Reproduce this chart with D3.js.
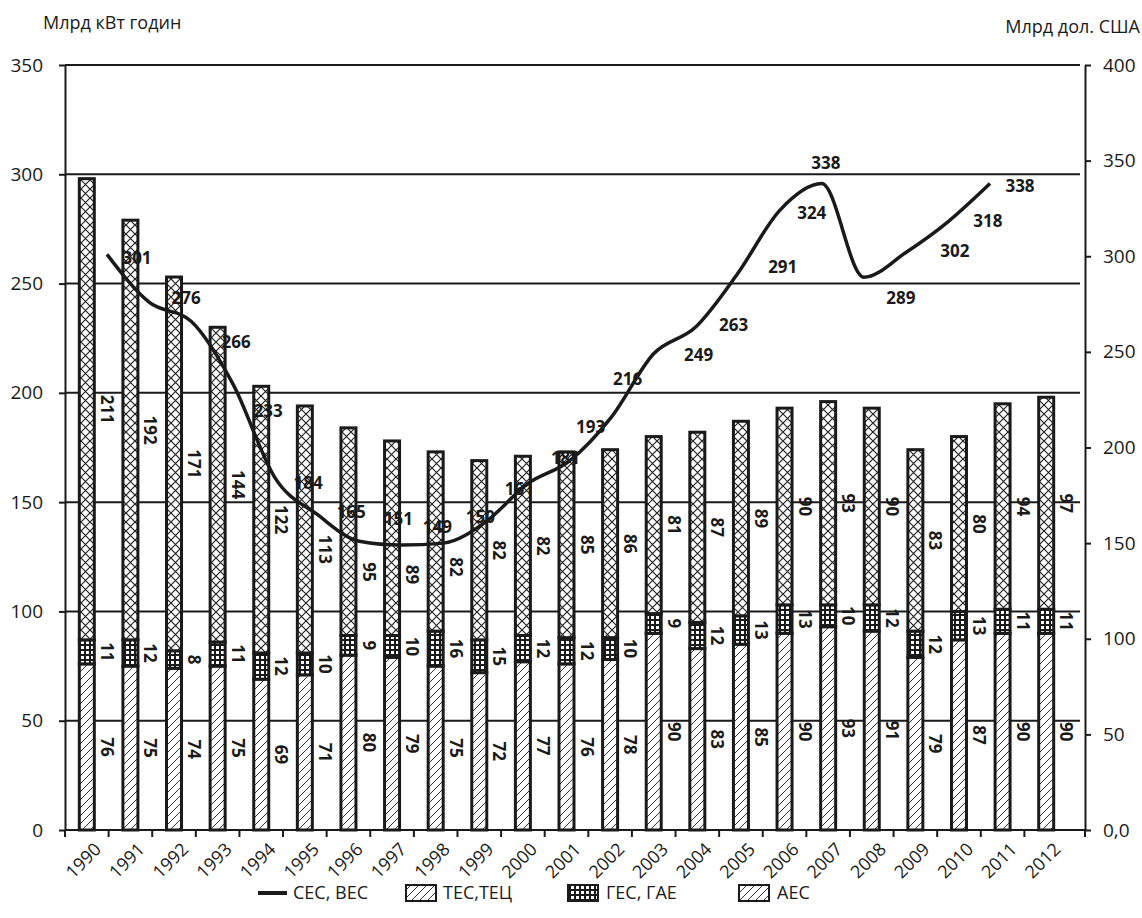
<!DOCTYPE html>
<html>
<head>
<meta charset="utf-8">
<script src="https://cdn.jsdelivr.net/npm/d3@7"></script>
<style>
  body { margin: 0; background: #fff; }
  text { font-family: "Open Sans", "Noto Sans", sans-serif; fill: #1a1a1a; }
</style>
</head>
<body>
<svg id="chart" width="1142" height="918"></svg>
<script>
// Electricity generation by plant type (bn kWh) and GDP line (bn USD)
const years = ['1990','1991','1992','1993','1994','1995','1996','1997','1998','1999','2000',
               '2001','2002','2003','2004','2005','2006','2007','2008','2009','2010','2011','2012'];
const aes     = [76, 75, 74, 75, 69, 71, 80, 79, 75, 72, 77, 76, 78, 90, 83, 85, 90, 93, 91, 79, 87, 90, 90];
const hydro   = [11, 12, 8, 11, 12, 10, 9, 10, 16, 15, 12, 12, 10, 9, 12, 13, 13, 10, 12, 12, 13, 11, 11];
const thermal = [211, 192, 171, 144, 122, 113, 95, 89, 82, 82, 82, 85, 86, 81, 87, 89, 90, 93, 90, 83, 80, 94, 97];

const gdpYears = ['1991','1992','1993','1994','1995','1996','1997','1998','1999','2000','2001',
                  '2002','2003','2004','2005','2006','2007','2008','2009','2010','2011','2012'];
const gdp = [301, 276, 266, 233, 184, 165, 151, 149, 150, 161, 181, 193, 216, 249, 263, 291, 324, 338, 289, 302, 318, 338];

const leftTicks  = [0, 50, 100, 150, 200, 250, 300, 350];
const rightTicks = [0, 50, 100, 150, 200, 250, 300, 350, 400];

const legendItems = ['СЕС, ВЕС', 'ТЕС,ТЕЦ', 'ГЕС, ГАЕ', 'АЕС'];

// nudges for GDP value labels, relative to their points
const gdpLabelOffset = [[30,4],[37,-4],[45,21],[35,27],[33,5],[34,-2],[39,-22],[36,-18],[37,-26],[34,-33],
                        [38,-26],[21,-34],[16,-38],[45,1],[38,-2],[45,-6],[32,3],[4,-21],[37,21],[49,-1],[40,-1],[30,2]];

const ink = '#1a1a1a';
const svg = d3.select('#chart');

const yLeft  = d3.scaleLinear().domain([0, 350]).range([830, 65]);
const yRight = d3.scaleLinear().domain([0, 400]).range([830, 65]);
const x = d3.scaleBand().domain(years).range([65, 1068]).paddingInner(0.656).paddingOuter(0.328);
const xLine = d3.scalePoint().domain(gdpYears).range([107, 990]);
const bw = x.bandwidth();
const step = x.step();

// ---------- fill patterns ----------
const defs = svg.append('defs');
const cross = defs.append('pattern').attr('id', 'pCross').attr('patternUnits', 'userSpaceOnUse')
  .attr('width', 9).attr('height', 9);
cross.append('rect').attr('width', 9).attr('height', 9).attr('fill', '#fff');
cross.append('path').attr('d', 'M0,0L9,9M9,0L0,9').attr('stroke', '#222').attr('stroke-width', 1.2);

const diag = defs.append('pattern').attr('id', 'pDiag').attr('patternUnits', 'userSpaceOnUse')
  .attr('width', 8).attr('height', 8);
diag.append('rect').attr('width', 8).attr('height', 8).attr('fill', '#fff');
diag.append('path').attr('d', 'M0,8L8,0M-2,2L2,-2M6,10L10,6').attr('stroke', '#333').attr('stroke-width', 1);

const grid = defs.append('pattern').attr('id', 'pGrid').attr('patternUnits', 'userSpaceOnUse')
  .attr('width', 5).attr('height', 5);
grid.append('rect').attr('width', 5).attr('height', 5).attr('fill', ink);
grid.append('rect').attr('x', 1).attr('y', 1).attr('width', 3).attr('height', 3).attr('fill', '#fff');

const fills = { aes: 'url(#pDiag)', hydro: 'url(#pGrid)', thermal: 'url(#pCross)' };

// ---------- gridlines ----------
svg.append('g').selectAll('line').data(leftTicks.filter(d => d > 0)).join('line')
  .attr('x1', 65).attr('x2', 1080)
  .attr('y1', d => yLeft(d)).attr('y2', d => yLeft(d))
  .attr('stroke', ink).attr('stroke-width', 2);

// ---------- stacked bars ----------
const table = years.map((yr, i) => ({ year: yr, aes: aes[i], hydro: hydro[i], thermal: thermal[i] }));
const keys = ['aes', 'hydro', 'thermal'];
const stacked = d3.stack().keys(keys)(table);

const barG = svg.append('g');
stacked.forEach(layer => {
  barG.append('g').selectAll('rect').data(layer).join('rect')
    .attr('x', d => x(d.data.year))
    .attr('width', bw)
    .attr('y', d => yLeft(d[1]))
    .attr('height', d => yLeft(d[0]) - yLeft(d[1]))
    .attr('fill', fills[layer.key])
    .attr('stroke', ink).attr('stroke-width', 3);
});

// ---------- GDP line ----------
const gdpPts = gdpYears.map((yr, i) => ({ year: yr, v: gdp[i] }));
const line = d3.line().x(d => xLine(d.year)).y(d => yRight(d.v)).curve(d3.curveMonotoneX);
const lineXs = gdpPts.map(d => xLine(d.year));

// y of the GDP line at an arbitrary x (linear between points)
function lineYAt(px) {
  if (px < lineXs[0] || px > lineXs[lineXs.length - 1]) return null;
  const i = Math.max(1, Math.min(d3.bisectRight(lineXs, px), lineXs.length - 1));
  const t = (px - lineXs[i - 1]) / (lineXs[i] - lineXs[i - 1]);
  return yRight(gdp[i - 1]) * (1 - t) + yRight(gdp[i]) * t;
}

// ---------- bar value labels (thermal labels kept below the line) ----------
const labG = svg.append('g').attr('font-weight', 700).attr('font-size', 17);
stacked.forEach(layer => {
  layer.forEach(d => {
    const cx = x(d.data.year) + bw / 2 + 20;
    let cy = (yLeft(d[0]) + yLeft(d[1])) / 2;
    if (layer.key === 'thermal') {
      const ly = lineYAt(cx);
      if (ly !== null) cy = Math.max(cy, ly + 30);
    }
    labG.append('text')
      .attr('transform', `translate(${cx},${cy}) rotate(90)`)
      .attr('text-anchor', 'middle').attr('dy', '0.35em')
      .text(d.data[layer.key]);
  });
});

svg.append('path').datum(gdpPts)
  .attr('d', line).attr('fill', 'none')
  .attr('stroke', ink).attr('stroke-width', 3.5).attr('stroke-linejoin', 'round');

svg.append('g').attr('font-weight', 700).attr('font-size', 17)
  .selectAll('text').data(gdpPts).join('text')
  .attr('x', (d, i) => xLine(d.year) + gdpLabelOffset[i][0])
  .attr('y', (d, i) => yRight(d.v) + gdpLabelOffset[i][1])
  .attr('text-anchor', 'middle').attr('dy', '0.35em')
  .text(d => d.v);

// ---------- axes ----------
const axL = svg.append('g').attr('transform', 'translate(65,0)')
  .call(d3.axisLeft(yLeft).tickValues(leftTicks).tickSize(6).tickSizeOuter(0).tickPadding(16));
const axR = svg.append('g').attr('transform', 'translate(1085,0)')
  .call(d3.axisRight(yRight).tickValues(rightTicks).tickSize(6).tickSizeOuter(0).tickPadding(12)
    .tickFormat(d => d === 0 ? '0,0' : d));
[axL, axR].forEach(g => {
  g.selectAll('path,line').attr('stroke', ink).attr('stroke-width', 2);
  g.selectAll('text').attr('font-size', 19).attr('font-family', '"Open Sans", sans-serif').attr('fill', ink);
});

// category axis with ticks on band boundaries
const bounds = years.map(yr => x(yr) - step * x.paddingInner() / 2).concat([1085]);
const axB = svg.append('g');
axB.append('line').attr('x1', 65).attr('x2', 1085).attr('y1', 830).attr('y2', 830)
  .attr('stroke', ink).attr('stroke-width', 2);
axB.selectAll('line.t').data(bounds).join('line').attr('class', 't')
  .attr('x1', d => d).attr('x2', d => d).attr('y1', 830).attr('y2', 837)
  .attr('stroke', ink).attr('stroke-width', 2);
axB.selectAll('text').data(years).join('text')
  .attr('transform', d => `translate(${x(d) + bw / 2 + 11},${846}) rotate(-45)`)
  .attr('text-anchor', 'end').attr('dy', '0.35em').attr('font-size', 18)
  .text(d => d);

// ---------- axis titles ----------
svg.append('text').attr('x', 43).attr('y', 29).attr('font-size', 18).text('Млрд кВт годин');
svg.append('text').attr('x', 1140).attr('y', 33).attr('font-size', 18).attr('text-anchor', 'end').text('Млрд дол. США');

// ---------- legend ----------
const lg = svg.append('g').attr('font-size', 18);
lg.append('line').attr('x1', 258).attr('x2', 287).attr('y1', 893).attr('y2', 893)
  .attr('stroke', ink).attr('stroke-width', 4);
lg.append('text').attr('x', 293).attr('y', 893).attr('dy', '0.35em').text(legendItems[0]);

const boxes = [
  { x: 406, fill: 'url(#pDiag)', label: legendItems[1], tx: 443 },
  { x: 568, fill: 'url(#pGrid)', label: legendItems[2], tx: 606 },
  { x: 739, fill: 'url(#pDiag)', label: legendItems[3], tx: 777 }
];
boxes.forEach(b => {
  lg.append('rect').attr('x', b.x).attr('y', 885).attr('width', 30).attr('height', 16)
    .attr('fill', b.fill).attr('stroke', ink).attr('stroke-width', 2);
  lg.append('text').attr('x', b.tx).attr('y', 893).attr('dy', '0.35em').text(b.label);
});
</script>
</body>
</html>
